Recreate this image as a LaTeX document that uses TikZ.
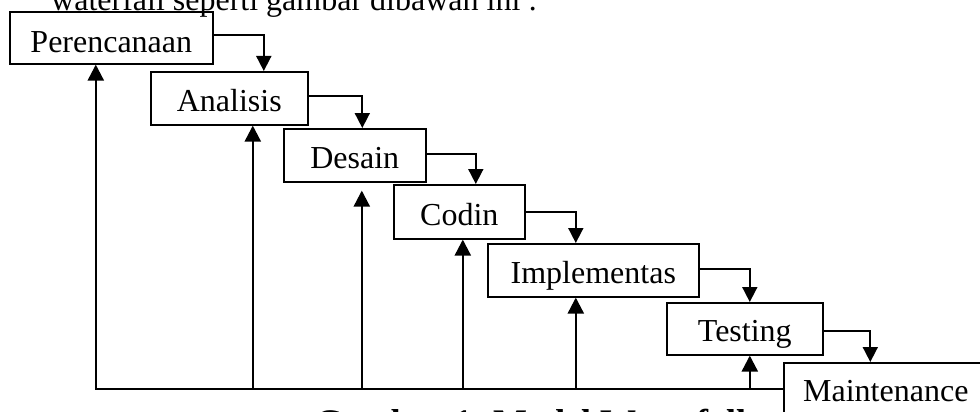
\documentclass[tikz,border=0pt]{standalone}
\usepackage{fontspec}
\setmainfont{Liberation Serif}
\usetikzlibrary{arrows.meta}
\begin{document}
\begin{tikzpicture}[x=1pt,y=-1pt,
  box/.style={draw, line width=1.6pt, minimum height=53pt, inner sep=0pt,
    anchor=north west, text height=26pt, text depth=0pt,
    font=\fontsize{32}{36}\selectfont},
  conn/.style={line width=1.7pt, -{Triangle[length=15pt,width=15pt]}},
  fb/.style={line width=2.3pt, -{Triangle[length=16pt,width=16pt]}},
  plain/.style={inner sep=0pt, font=\fontsize{32}{36}\selectfont}]
\useasboundingbox (0,0) rectangle (980,412);
\clip (0,0) rectangle (980,412);
\fill[white] (0,0) rectangle (980,412);

% clipped surrounding text
\node[plain, anchor=base west] (toptext) at (51,11) {waterfall seperti gambar dibawah ini :};
\node[plain, anchor=base west, font=\fontsize{36}{40}\selectfont\bfseries] (caption) at (315,434) {Gambar 1. Model Waterfall};

% boxes
\node[box, minimum width=203pt, minimum height=52pt, text height=30pt] (p) at (9,11) {Perencanaan};
\node[box, minimum width=157pt] (a) at (150,71) {Analisis\hspace{10pt}};
\node[box, minimum width=142pt] (d) at (283,128) {Desain\hspace{13pt}};
\node[box, minimum width=131pt, minimum height=54pt, text height=27pt] (c) at (393,184) {Codin\hspace{13pt}};
\node[box, minimum width=211pt] (i) at (487,243) {Implementas\hspace{4pt}};
\node[box, minimum width=156pt, minimum height=52pt] (t) at (666,302) {Testing\hspace{17pt}};
\node[box, minimum width=204pt, minimum height=52pt] (m) at (783,362) {Maintenance};

% forward connectors
\draw[conn] ([yshift=3pt]p.east) -| ([xshift=34.5pt]a.north);
\draw[conn] ([yshift=2.5pt]a.east) -| ([xshift=7.5pt]d.north);
\draw[conn] ([yshift=1.5pt]d.east) -| ([xshift=16.5pt]c.north);
\draw[conn] (c.east) -| ([xshift=-17.5pt]i.north);
\draw[conn] ([yshift=1.5pt]i.east) -| ([xshift=5pt]t.north);
\draw[conn] ([yshift=-2pt]t.east) -| ([xshift=-15.5pt]m.north);

% feedback
\draw[fb] (m.west) -| ([xshift=-15.5pt]p.south);
\draw[fb] ([xshift=23.5pt]a.south |- m.west) -- ([xshift=23.5pt]a.south);
\draw[fb, shorten >=8pt] ([xshift=7pt]d.south |- m.west) -- ([xshift=7pt]d.south);
\draw[fb] ([xshift=3.5pt]c.south |- m.west) -- ([xshift=3.5pt]c.south);
\draw[fb] ([xshift=-17.5pt]i.south |- m.west) -- ([xshift=-17.5pt]i.south);
\draw[fb] ([xshift=5pt]t.south |- m.west) -- ([xshift=5pt]t.south);
\end{tikzpicture}
\end{document}
